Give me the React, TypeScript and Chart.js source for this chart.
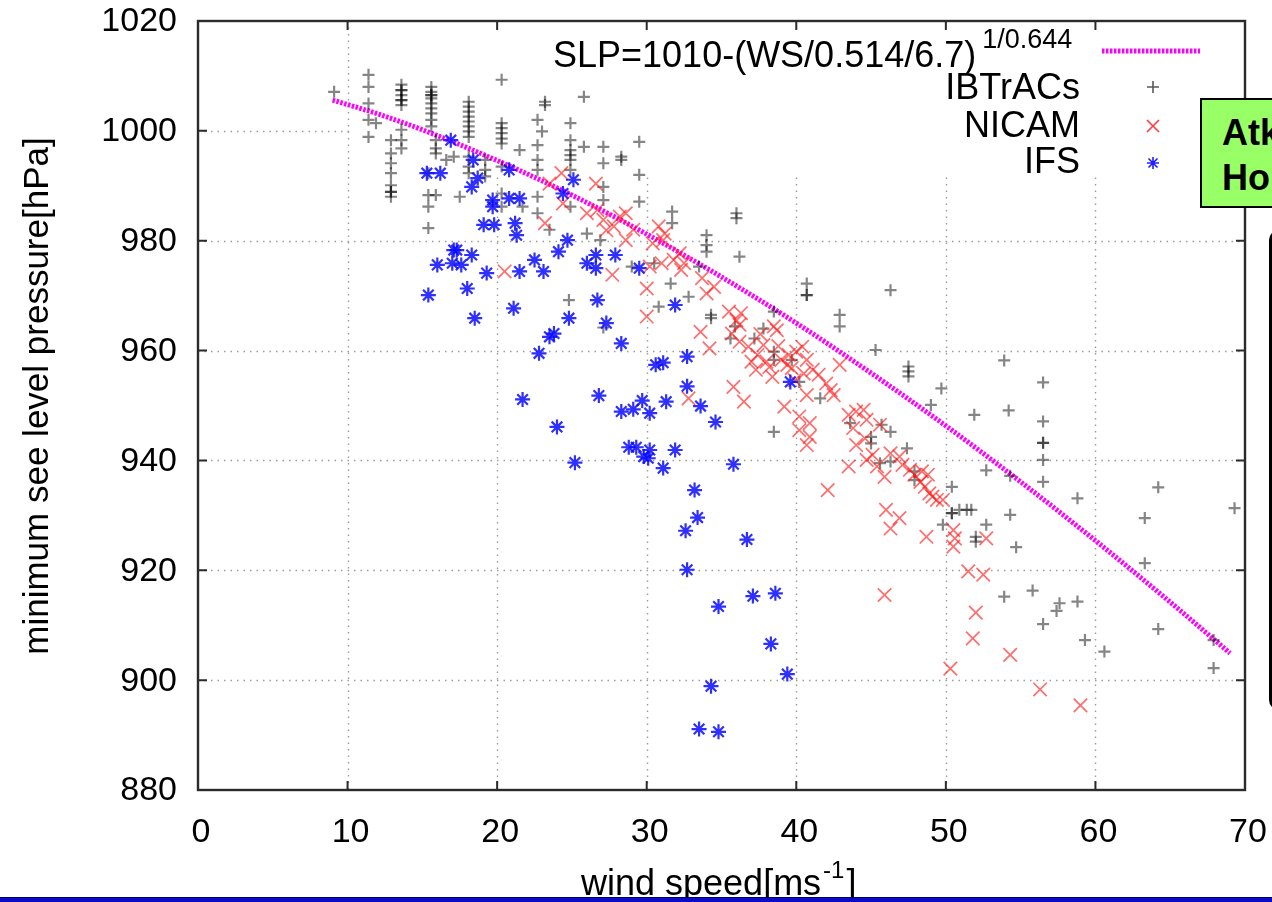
import React, { useEffect, useRef } from "react";
import { Chart, registerables } from "chart.js";

Chart.register(...registerables);

// ---------------- data ----------------
const curveWind = [9, 12, 15, 20, 25, 30, 35, 40, 45, 50, 55, 60, 65, 69];
const curveSlp = [1005.6, 1003.1, 1000.2, 994.6, 988.3, 981.2, 973.4, 965.0, 955.9, 946.3, 936.1, 925.4, 914.2, 904.9];

const ibtracsWind = [
  9.1, 11.4, 11.4, 11.4, 11.4, 11.4, 11.9,
  13.6, 13.6, 13.6, 13.6, 13.6, 13.6, 13.6, 13.6, 13.6, 13.6,
  12.9, 12.9, 12.9, 12.9, 12.9, 12.9, 12.9, 12.9,
  15.6, 15.6, 15.6, 15.6, 15.6, 15.6, 15.6, 15.6, 15.6, 15.6,
  15.9, 15.9, 15.9, 15.4, 15.4, 15.4, 15.4, 15.9,
  18.1, 18.1, 18.1, 18.1, 18.1, 18.1, 18.1, 18.1, 18.1, 18.1, 18.1,
  16.6, 17.1, 17.5, 19.2, 19.2, 19.2,
  20.3, 20.3, 20.3, 20.3, 20.3, 20.3, 20.3, 20.3, 20.3,
  21.5, 22.7, 22.7, 22.7, 22.7, 22.7, 22.7, 23.2, 23.2, 23.0,
  24.9, 24.9, 24.9, 24.9, 24.9, 24.9, 24.9, 25.8, 25.8,
  27.1, 27.1, 27.1, 27.1, 28.3, 28.3, 29.5, 29.5, 29.5,
  23.5, 24.8, 30.8, 27.1, 21.7, 26.0, 26.9, 29.0, 30.5,
  31.7, 31.7, 34.0, 34.0, 34.0, 36.0, 36.0, 36.2, 33.5, 31.6, 32.8,
  40.7, 40.7, 40.7, 46.3, 34.3, 34.3, 42.9, 42.9, 38.5,
  35.6, 35.9, 37.2, 37.8, 38.5, 38.5, 39.7, 40.2, 41.6, 45.3,
  47.5, 47.5, 47.5, 49.7, 49.0, 51.9, 38.5, 43.6, 45.7, 46.3,
  45.0, 45.0, 45.6, 46.3, 47.4, 47.9, 47.9, 50.4, 52.7, 49.8,
  50.4, 50.4, 50.9, 51.4, 51.7, 52.7, 52.0, 52.0,
  53.9, 56.5, 56.5, 56.5, 56.5, 56.5, 56.5, 54.2, 54.3, 58.8, 64.2, 69.3,
  54.3, 63.3, 54.7, 63.3, 53.9, 55.8, 56.5, 57.4, 57.6, 58.8, 59.3, 60.6,
  64.2, 67.9, 67.9,
];
const ibtracsSlp = [
  1007.1, 1010.2, 1008.0, 1005.0, 1002.0, 998.9, 1001.4,
  1008.4, 1007.4, 1006.5, 1005.6, 1004.7, 1000.2, 998.3, 996.8, 1007.4, 1005.6,
  998.3, 995.9, 994.1, 992.3, 990.1, 988.9, 988.9, 988.0,
  1008.0, 1007.1, 1006.5, 1005.9, 1005.0, 1004.1, 1003.2, 1002.0, 1000.8, 1006.5,
  998.3, 996.8, 995.9, 992.3, 988.3, 986.2, 982.3, 988.3,
  1005.3, 1004.4, 1003.5, 1002.6, 1001.7, 1000.8, 999.9, 998.9, 995.3, 993.5, 992.3,
  994.7, 995.3, 988.0, 994.7, 992.9, 991.7,
  1009.3, 1001.4, 1000.5, 999.6, 998.6, 997.7, 993.5, 988.6, 986.2,
  996.5, 1002.0, 997.4, 994.7, 992.9, 988.0, 985.0, 1005.3, 1004.7, 999.9,
  1001.4, 998.3, 996.5, 995.6, 994.7, 992.9, 986.2, 1006.2, 997.1,
  997.1, 994.1, 989.8, 987.4, 995.3, 994.7, 998.0, 992.0, 987.1,
  982.0, 969.2, 968.0, 964.2, 986.2, 981.3, 980.1, 975.3, 975.9,
  985.3, 983.2, 981.0, 979.2, 978.0, 985.0, 984.1, 977.1, 975.3, 972.2, 969.8,
  972.2, 970.1, 970.1, 971.0, 966.5, 965.9, 966.5, 964.4, 967.1,
  962.2, 964.4, 962.2, 964.0, 959.8, 958.3, 958.3, 954.3, 951.3, 960.1,
  957.1, 956.2, 955.3, 953.1, 950.1, 948.3, 945.2, 946.8, 946.5, 945.2,
  944.3, 943.1, 939.5, 939.8, 942.2, 938.0, 936.4, 935.2, 938.2, 928.3,
  930.4, 930.4, 931.0, 931.0, 931.0, 928.3, 926.1, 925.2,
  958.2, 954.2, 947.1, 943.2, 943.2, 940.1, 936.1, 949.1, 937.2, 933.1, 935.1, 931.3,
  930.1, 929.5, 924.2, 921.3, 915.2, 916.3, 910.2, 912.6, 914.0, 914.3, 907.3, 905.2,
  909.3, 907.3, 902.2,
];

const nicamWind = [
  24.3, 23.5, 24.4, 26.6, 23.2, 20.5, 26.0, 26.7, 27.1, 27.8, 27.3, 28.2, 28.6, 29.1, 28.6, 27.7,
  30.8, 31.2, 30.4, 31.1, 32.2, 31.8, 32.5, 31.0, 30.2, 30.0, 32.3, 33.7, 34.5, 34.0, 30.0,
  33.6, 34.2, 32.8, 35.5, 36.3, 36.2, 35.7, 36.2, 36.8, 37.4, 37.3, 38.0, 38.4, 38.5, 38.7,
  39.0, 39.4, 39.7, 40.0, 40.4, 40.7, 41.1, 41.5, 39.9, 39.2, 40.7, 42.0, 42.3, 42.5, 42.9,
  35.8, 36.5, 40.2, 40.9, 40.2, 40.9, 40.7, 43.5, 44.0, 44.5, 44.7, 43.8, 45.6, 44.0, 44.6,
  44.7, 45.1, 45.4, 45.9, 43.5, 42.1, 46.3, 46.9, 47.1, 47.6, 47.9, 48.3, 48.6, 48.9, 49.1,
  49.4, 49.8, 48.4, 48.8, 46.0, 46.9, 46.3, 48.7, 50.5, 50.6, 50.5, 52.7, 51.5, 52.5,
  52.0, 51.8, 54.3, 56.3, 59.0, 45.9, 50.3,
  37.8, 38.8, 39.5, 38.2, 40.5, 37.0, 36.0, 37.6,
];
const nicamSlp = [
  992.3, 990.4, 986.8, 990.4, 983.2, 974.4, 985.0, 985.6, 983.8, 982.6, 981.9, 984.4, 985.0, 982.0, 980.1, 973.8,
  982.6, 981.3, 979.5, 980.1, 977.7, 976.5, 975.9, 975.9, 975.3, 971.3, 974.7, 973.2, 971.6, 970.4, 966.2,
  963.4, 960.4, 951.3, 967.1, 966.8, 964.7, 963.1, 961.6, 960.7, 959.2, 956.5, 958.0, 955.2, 964.4, 963.7,
  958.3, 957.4, 956.8, 959.8, 960.7, 958.3, 956.5, 955.6, 954.6, 949.8, 951.9, 954.0, 952.8, 951.9, 957.4,
  953.4, 950.7, 948.0, 946.8, 945.5, 944.3, 942.8, 948.3, 948.9, 949.2, 947.4, 945.9, 946.5, 942.8, 944.0,
  940.1, 941.0, 938.9, 937.0, 938.9, 934.6, 941.3, 940.7, 939.2, 938.3, 937.4, 936.1, 935.2, 934.0, 933.4,
  932.8, 932.8, 938.0, 937.4, 931.0, 929.5, 927.6, 926.1, 927.3, 925.8, 924.3, 925.8, 919.8, 919.2,
  912.3, 907.6, 904.6, 898.3, 895.4, 915.5, 902.1,
  961.0, 960.8, 959.2, 957.0, 955.8, 958.0, 965.5, 963.0,
];

const ifsWind = [
  16.9, 18.4, 15.3, 16.2, 18.7, 18.3, 19.7, 19.7, 19.1, 19.8, 20.8, 20.8, 21.5, 21.2, 21.3,
  24.7, 24.1, 25.1, 24.4, 17.1, 17.3, 18.3, 16.0, 17.0, 17.6, 19.3, 18.0, 15.4, 18.5, 21.1,
  21.5, 22.5, 23.1, 26.0, 26.6, 26.6, 27.9, 29.5, 24.8, 23.5, 23.8, 22.8, 26.7, 27.3, 28.3,
  31.9, 21.7, 24.0, 25.2, 26.8, 28.3, 29.1, 29.7, 30.2, 30.6, 31.1, 31.3, 32.7, 32.7, 33.6,
  34.6, 28.8, 29.3, 29.8, 30.2, 30.1, 31.1, 31.9, 35.8, 33.2, 33.4, 32.6, 36.7, 32.7, 34.8,
  37.1, 38.6, 38.3, 39.4, 34.3, 33.5, 34.8, 39.6,
];
const ifsSlp = [
  998.3, 994.7, 992.3, 992.3, 991.4, 989.8, 987.4, 986.2, 982.9, 982.9, 992.9, 987.7, 987.7, 983.2, 981.0,
  980.1, 978.0, 991.1, 988.6, 978.3, 978.3, 977.4, 975.6, 975.9, 975.6, 974.1, 971.3, 970.1, 965.9, 967.7,
  974.4, 976.5, 974.4, 975.9, 975.0, 977.4, 977.4, 975.0, 965.9, 962.5, 963.1, 959.5, 969.2, 965.0, 961.3,
  968.3, 951.1, 946.1, 939.6, 951.8, 948.9, 949.3, 950.9, 948.6, 957.4, 957.8, 950.7, 958.9, 953.5, 949.9,
  947.0, 942.4, 942.4, 940.7, 941.9, 940.4, 938.6, 941.9, 939.3, 934.6, 929.6, 927.2, 925.6, 920.1, 913.4,
  915.3, 915.8, 906.6, 901.1, 898.9, 891.1, 890.6, 954.3,
];

const xTickValues = [0, 10, 20, 30, 40, 50, 60, 70];
const yTickValues = [880, 900, 920, 940, 960, 980, 1000, 1020];

const legendLabels = ["IBTrACs", "NICAM", "IFS"];
const curveLabel = "SLP=1010-(WS/0.514/6.7)";
const curveExponent = "1/0.644";
const xTitle = "wind speed[ms";
const xTitleSup = "-1";
const yTitle = "minimum see level pressure[hPa]";

const FONT = '"Liberation Sans", Arial, Helvetica, sans-serif';

const pairs = (xs: number[], ys: number[]) => xs.map((x, i) => ({ x, y: ys[i] }));

function drawMarker(ctx: CanvasRenderingContext2D, kind: string, x: number, y: number, color: string) {
  ctx.save();
  ctx.strokeStyle = color;
  ctx.lineWidth = 1.6;
  ctx.beginPath();
  if (kind === "plus" || kind === "star") {
    ctx.moveTo(x - 6, y); ctx.lineTo(x + 6, y);
    ctx.moveTo(x, y - 6); ctx.lineTo(x, y + 6);
  }
  if (kind === "x" || kind === "star") {
    const d = kind === "x" ? 6 : 4.5;
    ctx.moveTo(x - d, y - d); ctx.lineTo(x + d, y + d);
    ctx.moveTo(x - d, y + d); ctx.lineTo(x + d, y - d);
  }
  ctx.stroke();
  ctx.restore();
}

const decor = {
  id: "decor",
  beforeDatasetsDraw(chart: any) {
    const { ctx, chartArea: a, scales } = chart;
    const xs = scales.x, ys = scales.y;
    const keyLeft = xs.getPixelForValue(10.4);
    const keyBottom = ys.getPixelForValue(991.5);
    ctx.save();
    ctx.strokeStyle = "#9c9c9c";
    ctx.lineWidth = 1.4;
    ctx.setLineDash([1.5, 5]);
    xTickValues.forEach((v) => {
      if (v <= xs.min || v >= xs.max) return;
      const px = Math.round(xs.getPixelForValue(v)) + 0.5;
      const startY = px >= keyLeft ? keyBottom : a.top;
      ctx.beginPath(); ctx.moveTo(px, startY); ctx.lineTo(px, a.bottom); ctx.stroke();
    });
    yTickValues.forEach((v) => {
      if (v <= ys.min || v >= ys.max) return;
      const py = Math.round(ys.getPixelForValue(v)) + 0.5;
      const endX = py <= keyBottom ? keyLeft : a.right;
      ctx.beginPath(); ctx.moveTo(a.left, py); ctx.lineTo(endX, py); ctx.stroke();
    });
    ctx.restore();
  },
  afterDraw(chart: any) {
    const { ctx, chartArea: a, scales } = chart;
    const xs = scales.x, ys = scales.y;
    ctx.save();
    // border and inward ticks
    ctx.strokeStyle = "#2b2b2b";
    ctx.lineWidth = 2.4;
    ctx.setLineDash([]);
    ctx.strokeRect(a.left, a.top, a.right - a.left, a.bottom - a.top);
    ctx.lineWidth = 2;
    ctx.beginPath();
    xTickValues.forEach((v) => {
      const px = xs.getPixelForValue(v);
      ctx.moveTo(px, a.bottom); ctx.lineTo(px, a.bottom - 9);
      ctx.moveTo(px, a.top); ctx.lineTo(px, a.top + 9);
    });
    yTickValues.forEach((v) => {
      const py = ys.getPixelForValue(v);
      ctx.moveTo(a.left, py); ctx.lineTo(a.left + 9, py);
      ctx.moveTo(a.right, py); ctx.lineTo(a.right - 9, py);
    });
    ctx.stroke();

    // tick labels
    ctx.fillStyle = "#000";
    ctx.font = `34px ${FONT}`;
    ctx.textBaseline = "middle";
    ctx.textAlign = "right";
    yTickValues.forEach((v) => {
      ctx.fillText(String(v), a.left - 21, ys.getPixelForValue(v) + 1);
    });
    ctx.textAlign = "center";
    xTickValues.forEach((v) => {
      ctx.fillText(String(v), xs.getPixelForValue(v) + 3, a.bottom + 43);
    });

    // key
    ctx.textBaseline = "alphabetic";
    ctx.textAlign = "left";
    ctx.font = `36px ${FONT}`;
    ctx.fillText(curveLabel, 553, 67);
    const w = ctx.measureText(curveLabel).width;
    ctx.font = `27px ${FONT}`;
    ctx.fillText(curveExponent, 553 + w + 6, 48);
    ctx.strokeStyle = "#ff00ff";
    ctx.lineWidth = 5;
    ctx.setLineDash([2.5, 1.5]);
    ctx.beginPath(); ctx.moveTo(1102, 51); ctx.lineTo(1200, 51); ctx.stroke();
    ctx.setLineDash([]);
    ctx.font = `36px ${FONT}`;
    ctx.textAlign = "right";
    ctx.fillText(legendLabels[0], 1080, 99);
    ctx.fillText(legendLabels[1], 1080, 137);
    ctx.fillText(legendLabels[2], 1080, 173);
    drawMarker(ctx, "plus", 1153, 87, "rgba(60,60,60,0.85)");
    drawMarker(ctx, "x", 1153, 126, "rgba(255,40,40,0.9)");
    drawMarker(ctx, "star", 1153, 163, "rgba(20,20,255,0.95)");

    // axis titles
    ctx.textAlign = "left";
    ctx.font = `36px ${FONT}`;
    ctx.fillText(xTitle, 581, 895);
    const w2 = ctx.measureText(xTitle).width;
    ctx.font = `24px ${FONT}`;
    ctx.fillText(xTitleSup, 581 + w2 + 2, 878);
    const w3 = ctx.measureText(xTitleSup).width;
    ctx.font = `36px ${FONT}`;
    ctx.fillText("]", 581 + w2 + 4 + w3, 895);

    ctx.translate(48, 396);
    ctx.rotate(-Math.PI / 2);
    ctx.textAlign = "center";
    ctx.font = `35px ${FONT}`;
    ctx.fillText(yTitle, 0, 0);
    ctx.restore();
  },
};

export default function App() {
  const ref = useRef<HTMLCanvasElement | null>(null);
  useEffect(() => {
    if (!ref.current) return;
    const chart = new Chart(ref.current, {
      type: "scatter",
      data: {
        datasets: [
          {
            label: legendLabels[2],
            data: pairs(ifsWind, ifsSlp),
            pointStyle: "star",
            radius: 7.5,
            borderColor: "rgba(10,10,255,0.85)",
            backgroundColor: "rgba(10,10,255,0.85)",
            borderWidth: 2.2,
          },
          {
            label: legendLabels[1],
            data: pairs(nicamWind, nicamSlp),
            pointStyle: "crossRot",
            radius: 9.5,
            borderColor: "rgba(255,20,20,0.62)",
            backgroundColor: "rgba(255,20,20,0.62)",
            borderWidth: 1.7,
          },
          {
            label: legendLabels[0],
            data: pairs(ibtracsWind, ibtracsSlp),
            pointStyle: "cross",
            radius: 6,
            borderColor: "rgba(0,0,0,0.48)",
            backgroundColor: "rgba(0,0,0,0.48)",
            borderWidth: 2.2,
          },
          {
            label: curveLabel,
            data: pairs(curveWind, curveSlp),
            showLine: true,
            pointRadius: 0,
            borderColor: "#ff00ff",
            borderWidth: 5,
            borderDash: [2.5, 1.5],
            cubicInterpolationMode: "monotone",
            fill: false,
          } as any,
        ],
      },
      options: {
        animation: false,
        responsive: false,
        events: [],
        layout: { padding: { top: 21, right: 27, left: 0, bottom: 0 } },
        plugins: { legend: { display: false }, tooltip: { enabled: false } },
        scales: {
          x: {
            type: "linear",
            min: 0,
            max: 70,
            ticks: { display: false, stepSize: 10 },
            grid: { display: false, drawTicks: false },
            border: { display: false },
            afterFit: (s: any) => { s.height = 112; },
          },
          y: {
            type: "linear",
            min: 880,
            max: 1020,
            ticks: { display: false, stepSize: 20 },
            grid: { display: false, drawTicks: false },
            border: { display: false },
            afterFit: (s: any) => { s.width = 198; },
          },
        },
      } as any,
      plugins: [decor],
    });
    return () => chart.destroy();
  }, []);

  return (
    <div style={{ position: "fixed", left: 0, top: 0, width: 1272, height: 902, overflow: "hidden", background: "#fff" }}>
      <canvas ref={ref} width={1272} height={902} style={{ position: "absolute", left: 0, top: 0, width: 1272, height: 902 }} />
      <div
        style={{
          position: "absolute", left: 1200, top: 98, width: 200, height: 96,
          background: "#99ff66", border: "2px solid #000", boxSizing: "content-box",
          fontFamily: FONT, fontWeight: "bold", fontSize: 36, lineHeight: "45px", color: "#000",
          paddingLeft: 20, paddingTop: 10, whiteSpace: "nowrap",
        }}
      >
        <div>Atk</div>
        <div>Hol</div>
      </div>
      <div
        style={{
          position: "absolute", left: 1269, top: 230, width: 200, height: 474,
          border: "3px solid #000", borderRadius: 10, background: "#fff",
        }}
      />
      <div style={{ position: "absolute", left: 0, top: 897, width: 1272, height: 5, background: "#0a0ac8", borderTop: "1px solid #00006a" }} />
    </div>
  );
}
